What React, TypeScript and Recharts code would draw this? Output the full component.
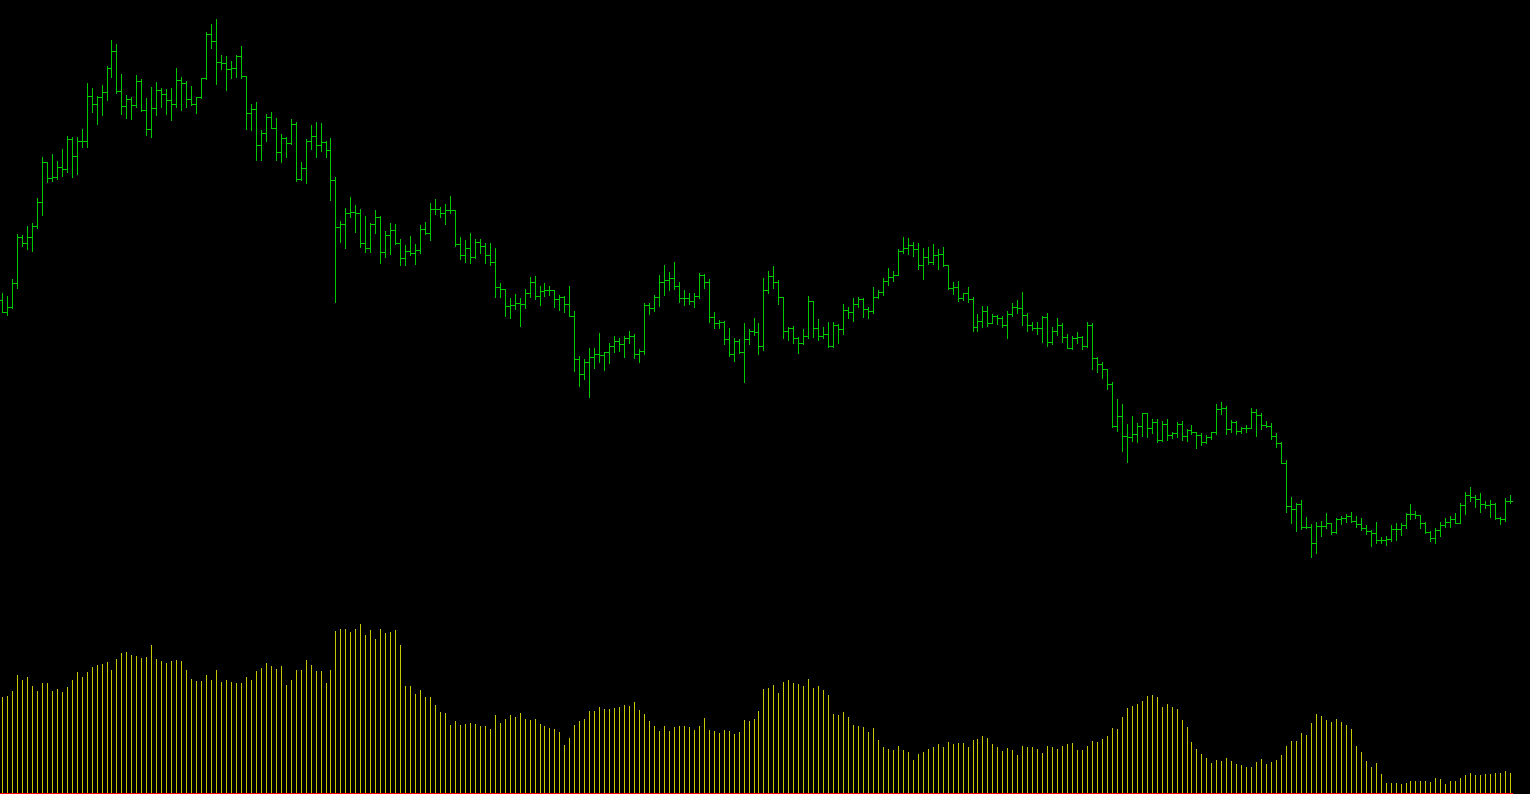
import React from 'react';
import { ComposedChart, Bar, XAxis, YAxis, ReferenceLine } from 'recharts';

// Price values are in points (higher = higher price); volume in lots.
const highs = [
  507, 504, 521, 566, 565, 574, 577, 602, 643, 638,
  646, 639, 651, 664, 663, 663, 671, 717, 712, 704,
  715, 734, 760, 756, 726, 705, 703, 725, 721, 702,
  713, 718, 712, 711, 712, 732, 723, 719, 714, 703,
  722, 768, 776, 781, 745, 744, 739, 745, 754, 724,
  696, 698, 670, 686, 688, 682, 666, 663, 681, 678,
  638, 661, 675, 678, 677, 659, 662, 623, 579, 592,
  603, 595, 591, 584, 577, 590, 584, 569, 577, 576,
  561, 555, 564, 556, 575, 578, 597, 601, 593, 596,
  604, 590, 563, 560, 567, 561, 561, 557, 557, 552,
  517, 511, 502, 506, 502, 511, 523, 524, 514, 517,
  514, 510, 505, 504, 514, 489, 444, 441, 452, 452,
  467, 448, 457, 464, 462, 464, 469, 466, 451, 497,
  497, 505, 525, 535, 528, 538, 518, 510, 507, 507,
  527, 526, 521, 488, 480, 479, 472, 462, 461, 477,
  471, 482, 477, 522, 529, 534, 520, 503, 473, 474,
  463, 471, 504, 499, 481, 473, 478, 478, 476, 496,
  493, 502, 503, 502, 493, 513, 510, 522, 532, 529,
  551, 563, 562, 558, 557, 552, 553, 556, 551, 553,
  535, 518, 519, 507, 513, 503, 486, 494, 494, 486,
  485, 484, 489, 497, 500, 508, 487, 478, 478, 484,
  487, 473, 482, 477, 466, 464, 468, 464, 478, 477,
  443, 438, 431, 418, 401, 396, 376, 384, 377, 387,
  387, 381, 381, 379, 381, 368, 378, 379, 371, 375,
  368, 367, 365, 368, 396, 398, 394, 380, 379, 373,
  375, 392, 391, 387, 379, 377, 367, 358, 340, 303,
  297, 300, 283, 276, 278, 279, 287, 277, 282, 284,
  286, 288, 284, 282, 275, 270, 278, 263, 264, 275,
  277, 277, 287, 296, 289, 285, 278, 269, 272, 278,
  282, 284, 287, 297, 308, 313, 305, 307, 299, 300,
  297, 283, 302, 305,
];

const lows = [
  488, 485, 492, 512, 554, 551, 549, 572, 585, 618,
  619, 621, 624, 628, 623, 626, 653, 653, 688, 676,
  685, 700, 723, 707, 686, 682, 681, 693, 689, 665,
  663, 685, 693, 686, 680, 693, 690, 693, 695, 687,
  702, 721, 752, 716, 731, 710, 722, 723, 722, 671,
  670, 640, 640, 659, 672, 640, 638, 643, 656, 619,
  620, 617, 651, 643, 649, 643, 600, 498, 558, 552,
  583, 568, 553, 548, 548, 567, 537, 543, 546, 556,
  535, 535, 545, 536, 547, 566, 560, 586, 583, 576,
  587, 554, 541, 538, 537, 542, 547, 537, 535, 503,
  503, 484, 482, 491, 474, 492, 503, 501, 495, 504,
  505, 493, 490, 488, 484, 429, 414, 421, 403, 432,
  438, 430, 437, 448, 449, 443, 457, 442, 438, 446,
  486, 489, 494, 505, 510, 511, 498, 495, 496, 493,
  502, 512, 478, 472, 472, 456, 444, 439, 447, 418,
  456, 465, 446, 450, 507, 512, 496, 462, 460, 457,
  447, 456, 462, 463, 460, 462, 453, 453, 457, 466,
  482, 479, 493, 483, 482, 487, 502, 505, 515, 519,
  525, 547, 546, 544, 531, 521, 536, 536, 531, 534,
  511, 506, 499, 500, 498, 469, 469, 473, 474, 477,
  476, 473, 462, 484, 487, 475, 469, 470, 466, 458,
  454, 456, 465, 458, 452, 451, 457, 451, 453, 431,
  428, 422, 411, 373, 369, 349, 338, 359, 358, 364,
  363, 367, 358, 359, 360, 362, 363, 360, 359, 366,
  352, 355, 357, 361, 366, 386, 366, 368, 366, 367,
  368, 372, 364, 371, 373, 361, 353, 337, 288, 277,
  269, 271, 272, 243, 247, 264, 272, 266, 267, 276,
  278, 278, 273, 270, 266, 254, 257, 257, 255, 259,
  260, 265, 272, 281, 282, 272, 267, 259, 257, 264,
  273, 273, 277, 277, 286, 299, 293, 288, 292, 283,
  281, 276, 279, 297,
];

const opens = [
  500, 488, 493, 517, 563, 557, 563, 574, 598, 638,
  622, 623, 633, 631, 661, 644, 659, 659, 704, 696,
  703, 708, 732, 749, 709, 694, 701, 695, 719, 690,
  671, 692, 710, 706, 700, 696, 720, 717, 701, 696,
  703, 722, 766, 759, 738, 737, 731, 732, 744, 724,
  687, 691, 655, 667, 683, 672, 648, 662, 657, 676,
  621, 632, 659, 664, 655, 658, 650, 620, 573, 576,
  587, 588, 587, 557, 552, 576, 583, 548, 565, 570,
  557, 542, 549, 547, 550, 571, 567, 591, 591, 587,
  590, 590, 556, 545, 552, 543, 558, 554, 545, 538,
  513, 511, 494, 495, 497, 496, 507, 518, 504, 509,
  510, 510, 501, 503, 496, 484, 441, 426, 438, 443,
  446, 445, 448, 454, 459, 456, 462, 464, 446, 449,
  495, 492, 503, 518, 520, 522, 514, 502, 502, 499,
  504, 525, 518, 483, 477, 478, 461, 446, 459, 448,
  461, 469, 468, 454, 510, 524, 518, 503, 469, 472,
  462, 457, 464, 499, 472, 464, 466, 454, 475, 471,
  490, 488, 496, 501, 491, 489, 503, 508, 519, 523,
  525, 549, 552, 555, 551, 535, 543, 538, 545, 546,
  535, 512, 513, 502, 507, 501, 473, 479, 489, 477,
  484, 482, 475, 486, 493, 492, 485, 475, 472, 472,
  483, 458, 469, 475, 463, 452, 462, 463, 454, 475,
  442, 436, 431, 416, 374, 384, 364, 363, 366, 374,
  387, 372, 378, 360, 376, 365, 367, 376, 364, 370,
  368, 365, 358, 363, 368, 391, 392, 371, 378, 369,
  372, 372, 388, 385, 375, 374, 364, 357, 337, 294,
  291, 296, 273, 273, 257, 274, 274, 277, 268, 281,
  282, 284, 279, 276, 272, 269, 267, 260, 260, 261,
  271, 271, 275, 286, 286, 285, 277, 268, 262, 270,
  275, 278, 281, 277, 295, 305, 303, 301, 296, 295,
  296, 282, 281, 299,
];

const closes = [
  488, 493, 517, 563, 557, 563, 574, 598, 638, 622,
  623, 633, 631, 661, 644, 659, 659, 704, 696, 703,
  708, 732, 749, 709, 694, 701, 695, 719, 690, 671,
  692, 710, 706, 700, 696, 720, 717, 701, 696, 703,
  722, 766, 759, 738, 737, 731, 732, 744, 724, 687,
  691, 655, 667, 683, 672, 648, 662, 657, 676, 621,
  632, 659, 664, 655, 658, 650, 620, 573, 576, 587,
  588, 587, 557, 552, 576, 583, 548, 565, 570, 557,
  542, 549, 547, 550, 571, 567, 591, 591, 587, 590,
  590, 556, 545, 552, 543, 558, 554, 545, 538, 513,
  511, 494, 495, 497, 496, 507, 518, 504, 509, 510,
  510, 501, 503, 496, 484, 441, 426, 438, 443, 446,
  445, 448, 454, 459, 456, 462, 464, 446, 449, 495,
  492, 503, 518, 520, 522, 514, 502, 502, 499, 504,
  525, 518, 483, 477, 478, 461, 446, 459, 448, 461,
  469, 468, 454, 510, 524, 518, 503, 469, 472, 462,
  457, 464, 499, 472, 464, 466, 454, 475, 471, 490,
  488, 496, 501, 491, 489, 503, 508, 519, 523, 525,
  549, 552, 555, 551, 535, 543, 538, 545, 546, 535,
  512, 513, 502, 507, 501, 473, 479, 489, 477, 484,
  482, 475, 486, 493, 492, 485, 475, 472, 472, 483,
  458, 469, 475, 463, 452, 462, 463, 454, 475, 442,
  436, 431, 416, 374, 384, 364, 363, 366, 374, 387,
  372, 378, 360, 376, 365, 367, 376, 364, 370, 368,
  365, 358, 363, 368, 391, 392, 371, 378, 369, 372,
  372, 388, 385, 375, 374, 364, 357, 337, 294, 291,
  296, 273, 273, 257, 274, 274, 277, 268, 281, 282,
  284, 279, 276, 272, 269, 267, 260, 260, 261, 271,
  271, 275, 286, 286, 285, 277, 268, 262, 270, 275,
  278, 281, 277, 295, 305, 303, 301, 296, 295, 296,
  282, 281, 299, 299,
];

const volumes = [
  287, 290, 305, 353, 340, 347, 320, 305, 330, 330,
  305, 312, 302, 317, 340, 362, 348, 362, 377, 385,
  388, 392, 368, 403, 420, 422, 415, 412, 405, 407,
  445, 402, 395, 390, 395, 400, 395, 368, 343, 335,
  335, 353, 338, 370, 332, 338, 334, 329, 329, 347,
  338, 365, 375, 389, 382, 373, 380, 325, 338, 368,
  368, 398, 385, 365, 365, 330, 370, 487, 493, 493,
  483, 493, 506, 475, 490, 463, 493, 480, 483, 490,
  445, 320, 320, 297, 308, 287, 287, 265, 242, 240,
  203, 215, 203, 207, 210, 207, 200, 200, 192, 233,
  209, 222, 233, 228, 239, 222, 219, 222, 206, 200,
  195, 192, 183, 145, 165, 203, 215, 222, 245, 245,
  257, 252, 252, 255, 257, 263, 260, 272, 248, 237,
  215, 200, 187, 200, 185, 198, 200, 200, 197, 189,
  200, 225, 189, 185, 180, 189, 185, 177, 182, 219,
  215, 222, 245, 313, 315, 323, 300, 332, 338, 330,
  327, 320, 342, 314, 320, 308, 294, 237, 234, 243,
  228, 204, 201, 198, 183, 195, 159, 139, 132, 130,
  142, 129, 122, 100, 118, 123, 133, 139, 147, 137,
  154, 147, 150, 150, 138, 159, 163, 171, 165, 147,
  138, 127, 135, 129, 115, 141, 139, 139, 132, 120,
  141, 138, 132, 141, 147, 150, 129, 130, 141, 156,
  153, 163, 171, 195, 192, 228, 255, 260, 267, 275,
  290, 294, 287, 257, 267, 257, 252, 219, 198, 153,
  132, 117, 105, 90, 99, 95, 105, 96, 88, 84,
  78, 78, 93, 102, 87, 93, 99, 114, 141, 156,
  156, 180, 174, 210, 236, 230, 219, 213, 222, 213,
  203, 192, 141, 123, 96, 78, 90, 58, 30, 30,
  30, 27, 30, 36, 36, 36, 36, 33, 45, 42,
  27, 36, 36, 45, 54, 60, 54, 54, 57, 57,
  60, 60, 66, 60,
];

const data = highs.map((h, i) => ({
  i,
  high: h,
  low: lows[i],
  open: opens[i],
  close: closes[i],
  vol: volumes[i],
}));

const W = 1530;
const H = 794;
const MARGIN = { top: 0, right: 17, bottom: 1, left: 0 };
const GREEN = '#00c800';
const YELLOW = '#c8c800';

const OhlcShape = (props: any) => {
  const { x, y, width, height, payload } = props;
  if (x == null || y == null || !payload) return null;
  const top = Math.min(y, y + height);
  const bot = Math.max(y, y + height);
  const span = payload.high - payload.low;
  const toPix = (v: number) => (span === 0 ? top : top + ((payload.high - v) / span) * (bot - top));
  const cx = Math.floor(x + width / 2) + 0.5;
  const oy = Math.round(toPix(payload.open)) + 0.5;
  const cy = Math.round(toPix(payload.close)) + 0.5;
  return (
    <g stroke={GREEN} strokeWidth={1} shapeRendering="crispEdges" fill="none">
      <line x1={cx} x2={cx} y1={Math.round(top)} y2={Math.round(bot) + 1} />
      <line x1={cx - 2.5} x2={cx} y1={oy} y2={oy} />
      <line x1={cx} x2={cx + 2.5} y1={cy} y2={cy} />
    </g>
  );
};

const VolShape = (props: any) => {
  const { x, y, width, height } = props;
  if (x == null || y == null) return null;
  const cx = Math.floor(x + width / 2);
  const t = Math.round(Math.min(y, y + height));
  const b = Math.round(Math.max(y, y + height));
  return <rect x={cx} y={t} width={1} height={Math.max(0, b - t)} fill={YELLOW} shapeRendering="crispEdges" />;
};

export default function App() {
  return (
    <div style={{ position: 'fixed', left: 0, top: 0, width: W, height: H, background: '#000', overflow: 'hidden' }}>
      <div style={{ position: 'absolute', left: 0, top: 0 }}>
        <ComposedChart width={W} height={H} data={data} margin={MARGIN}>
          <XAxis dataKey="i" type="category" hide />
          <YAxis yAxisId="v" hide domain={[0, 2379]} allowDataOverflow />
          <ReferenceLine yAxisId="v" y={-1.5} stroke="#ff0000" strokeWidth={1} ifOverflow="visible" />
          <Bar yAxisId="v" dataKey="vol" shape={<VolShape />} isAnimationActive={false} />
        </ComposedChart>
      </div>
      <div style={{ position: 'absolute', left: 0, top: 0 }}>
        <ComposedChart width={W} height={H} data={data} margin={MARGIN}>
          <XAxis dataKey="i" type="category" hide />
          <YAxis yAxisId="p" hide domain={[7, 800]} allowDataOverflow />
          <Bar
            yAxisId="p"
            dataKey={(d: any) => [d.low, d.high]}
            shape={<OhlcShape />}
            isAnimationActive={false}
          />
        </ComposedChart>
      </div>
    </div>
  );
}
